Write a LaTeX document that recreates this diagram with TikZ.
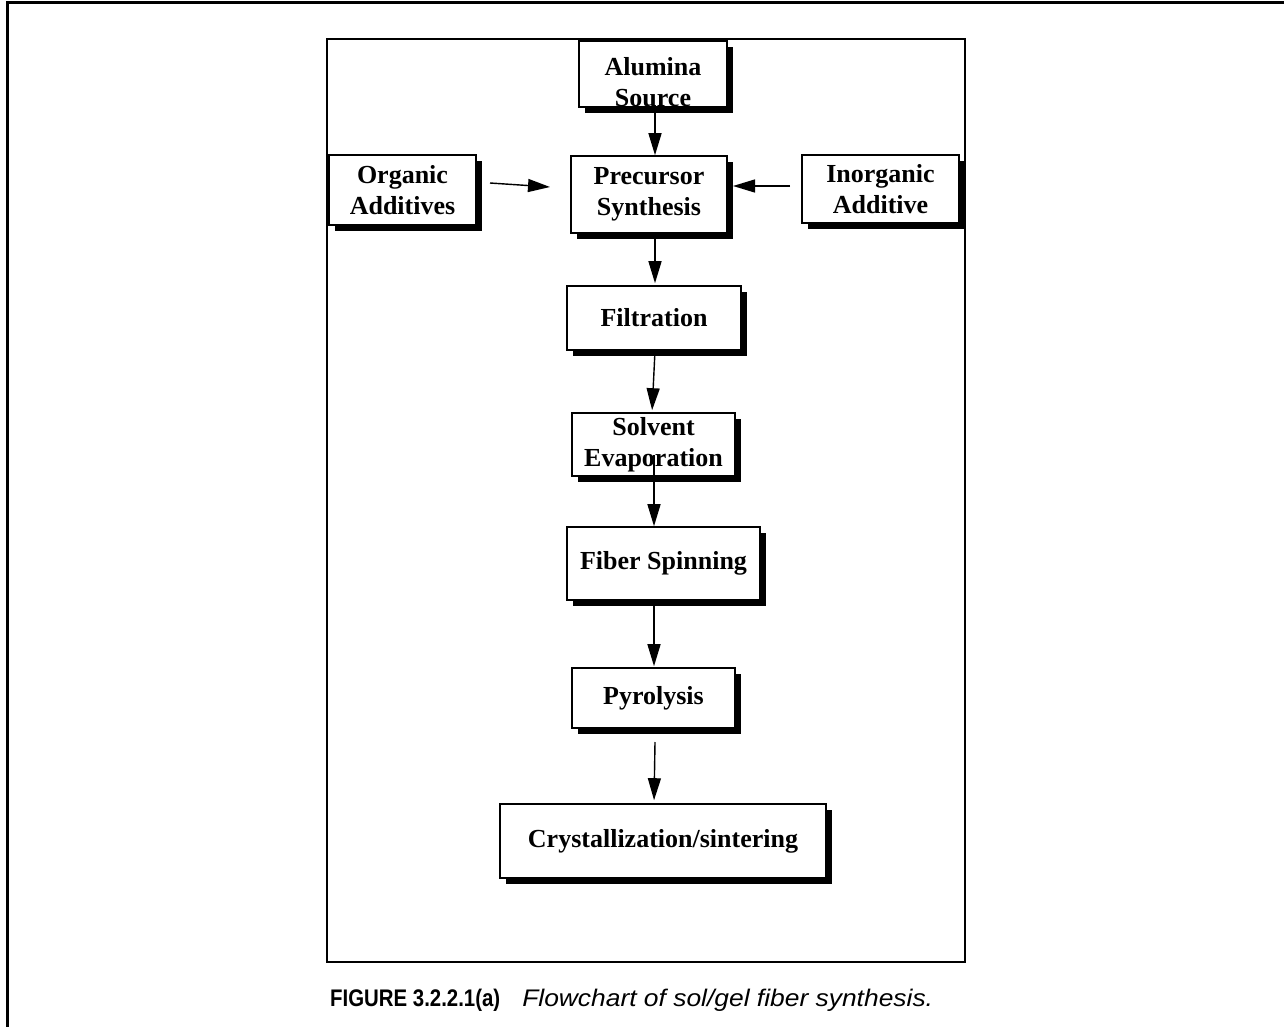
\documentclass[tikz,border=0pt]{standalone}
\usepackage{fontspec}
\setmainfont{Liberation Serif}
\setsansfont{Liberation Sans}
\usetikzlibrary{arrows.meta,shadows}
\tikzset{
  box/.style={draw, line width=1.6pt, fill=white, inner sep=0pt,
    font=\fontsize{26}{31}\selectfont\bfseries, align=center,
    drop shadow={shadow xshift=6pt, shadow yshift=-6pt, fill=black, opacity=1}},
  arr/.style={line width=1.4pt, -{Triangle[length=22pt,width=13pt]}},
}
\begin{document}
\begin{tikzpicture}[x=1pt,y=-1pt]
\useasboundingbox (0,0) rectangle (1284,1027);
% outer frame
\draw[line width=3pt] (7,1027) -- (7,3) -- (1284,3);
% inner frame
\draw[line width=1.8pt] (327,39) rectangle (965,962);
% boxes
\node[box, minimum width=148pt, minimum height=66pt] (alumina) at (653,74) {};
\node[font=\fontsize{26}{31}\selectfont\bfseries, align=center, inner sep=0pt] (aluminaT) at (653,82) {Alumina\\Source};
\node[box, minimum width=147pt, minimum height=70pt] (organic) at (402.5,190) {Organic\\Additives};
\node[box, minimum width=156pt, minimum height=77pt] (precursor) at (649,194.5) {Precursor\\Synthesis};
\node[box, minimum width=157pt, minimum height=68pt] (inorganic) at (880.5,189) {Inorganic\\Additive};
\node[box, minimum width=174pt, minimum height=64pt] (filtration) at (654,318) {Filtration};
\node[box, minimum width=163pt, minimum height=63pt] (solvent) at (653.5,444.5) {Solvent\\Evaporation};
\node[box, minimum width=193pt, minimum height=73pt] (fiber) at (663.5,563.5) {Fiber Spinning};
\node[box, minimum width=163pt, minimum height=60pt] (pyrolysis) at (653.5,698) {Pyrolysis};
\node[box, minimum width=326pt, minimum height=74pt] (crystal) at (663,841) {Crystallization/sintering};
% connector ends
\coordinate (oA) at (490,183);
\coordinate (oB) at (550,187);
\coordinate (iA) at (790,186);
\coordinate (iB) at (733,186);
\coordinate (sA) at (654,455);
\coordinate (pA) at (655,742);
% connectors
\draw[arr] (alumina.south -| 655,0) -- (precursor.north -| 655,0);
\draw[arr] (oA) -- (oB);
\draw[arr] (iA) -- (iB);
\draw[arr, shorten >=2pt] (precursor.south -| 655,0) -- (filtration.north -| 655,0);
\draw[arr, shorten >=2pt] (filtration.south -| 655,0) -- ([xshift=-2pt]solvent.north -| 654,0);
\draw[arr] (sA) -- (fiber.north -| 654,0);
\draw[arr, shorten >=1pt] (fiber.south -| 654,0) -- (pyrolysis.north -| 654,0);
\draw[arr, shorten >=3pt] (pA) -- (crystal.north -| 654,0);
% caption
\node[font=\sffamily\fontsize{24}{28}\selectfont, anchor=west, inner sep=0pt] (caption) at (330,1000)
  {\scalebox{0.85}[1]{\textbf{FIGURE 3.2.2.1(a)}}\hspace{22pt}\scalebox{1.1}[1]{\textit{Flowchart of sol/gel fiber synthesis.}}};
\end{tikzpicture}
\end{document}
